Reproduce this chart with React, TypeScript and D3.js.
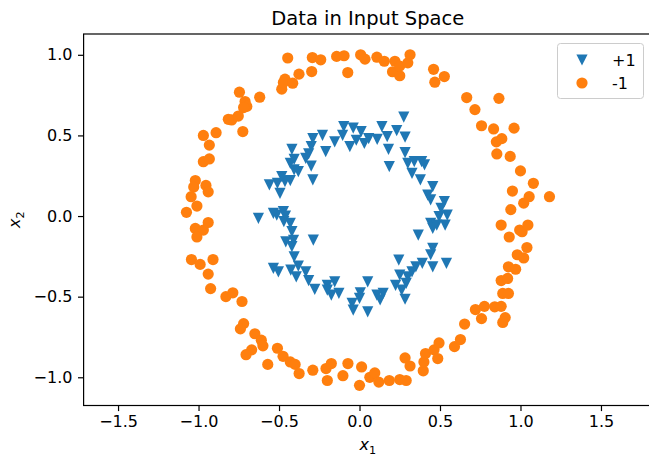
import React, { useRef, useEffect } from 'react';
import * as d3 from 'd3';

// points: [x1, x2]
const positivePoints: [number, number][] = [
  [0.275, 0.613], [-0.098, 0.555], [-0.039, 0.545], [0.01, 0.524], [0.139, 0.555], [0.231, 0.53],
  [0.283, 0.489], [0.172, 0.493], [0.11, 0.475], [0.057, 0.48], [0.03, 0.45], [-0.02, 0.47],
  [-0.06, 0.43], [-0.105, 0.5], [-0.154, 0.46], [-0.23, 0.5], [-0.29, 0.48], [-0.3, 0.43],
  [-0.21, 0.4], [-0.316, 0.385], [-0.334, 0.358], [-0.42, 0.414], [-0.406, 0.352], [-0.43, 0.327],
  [-0.3, 0.31], [-0.406, 0.286], [-0.38, 0.275], [-0.29, 0.224], [-0.463, 0.213], [-0.483, 0.244],
  [-0.56, 0.193], [-0.51, 0.203], [-0.494, 0.141], [-0.43, 0.22], [0.18, 0.414], [0.185, 0.306],
  [0.283, 0.393], [0.3, 0.327], [0.34, 0.337], [0.326, 0.265], [0.386, 0.337], [0.404, 0.317],
  [0.378, 0.224], [0.455, 0.182], [0.424, 0.13], [0.442, 0.1], [0.527, 0.09], [0.506, 0.048],
  [0.545, 0.006], [0.494, -0.004], [0.442, -0.046], [0.48, -0.056], [0.532, -0.056], [0.455, -0.077],
  [0.365, -0.118], [0.455, -0.2], [0.442, -0.24], [0.54, -0.294], [0.244, -0.273], [0.39, -0.294],
  [0.35, -0.315], [0.455, -0.315], [0.326, -0.346], [0.3, -0.377], [0.25, -0.366], [0.29, -0.418],
  [0.224, -0.43], [0.262, -0.46], [0.283, -0.516], [0.147, -0.48], [0.108, -0.49], [0.128, -0.52],
  [0.051, -0.408], [0.005, -0.476], [0.0, -0.511], [-0.046, -0.542], [-0.039, -0.584], [0.051, -0.594],
  [-0.154, -0.408], [-0.2, -0.43], [-0.128, -0.48], [-0.175, -0.49], [-0.2, -0.46], [-0.278, -0.455],
  [-0.316, -0.4], [-0.334, -0.346], [-0.393, -0.377], [-0.427, -0.335], [-0.535, -0.325], [-0.504, -0.346],
  [-0.406, -0.253], [-0.38, -0.31], [-0.42, -0.19], [-0.458, -0.16], [-0.41, -0.15], [-0.287, -0.149],
  [-0.43, -0.046], [-0.42, -0.097], [-0.47, -0.035], [-0.514, 0.006], [-0.473, 0.027], [-0.535, 0.017],
  [-0.628, -0.014], [-0.46, 0.0],
];

const negativePoints: [number, number][] = [
  [-0.446, 0.98], [-0.293, 0.983], [-0.241, 0.969], [-0.142, 0.99], [-0.096, 0.994], [-0.073, 0.89],
  [0.007, 1.0], [0.034, 0.973], [0.108, 0.985], [0.154, 0.96], [0.22, 0.96], [0.205, 0.895],
  [0.25, 0.87], [0.25, 0.93], [0.3, 0.95], [0.314, 1.0], [0.46, 0.91], [0.527, 0.865],
  [0.468, 0.83], [-0.376, 0.88], [-0.297, 0.896], [-0.463, 0.849], [-0.483, 0.787], [-0.473, 0.828],
  [-0.415, 0.824], [-0.746, 0.768], [-0.711, 0.71], [-0.7, 0.68], [-0.72, 0.673], [-0.62, 0.737],
  [-0.753, 0.62], [-0.794, 0.596], [-0.815, 0.6], [-0.725, 0.524], [-0.891, 0.517], [-0.97, 0.5],
  [-0.933, 0.44], [-0.97, 0.337], [-0.933, 0.354], [-1.02, 0.22], [-1.03, 0.18], [-0.954, 0.19],
  [-0.94, 0.15], [-1.046, 0.12], [-1.01, 0.062], [-1.075, 0.023], [-1.02, -0.077], [-0.97, -0.087],
  [-0.94, -0.04], [-1.01, -0.13], [-1.044, -0.27], [-0.99, -0.3], [-0.91, -0.27], [-0.94, -0.36],
  [-0.925, -0.45], [-0.83, -0.5], [-0.787, -0.476], [-0.73, -0.53], [-0.72, -0.667], [-0.74, -0.7],
  [-0.65, -0.73], [-0.61, -0.77], [-0.6, -0.805], [-0.67, -0.83], [-0.705, -0.86], [-0.57, -0.92],
  [-0.51, -0.82], [-0.475, -0.87], [-0.43, -0.905], [-0.4, -0.92], [-0.375, -0.977], [-0.29, -0.956],
  [-0.208, -0.946], [-0.175, -0.915], [-0.2, -1.02], [-0.103, -0.99], [-0.072, -0.915], [0.013, -0.936],
  [0.0, -1.05], [0.064, -1.0], [0.095, -0.973], [0.12, -1.03], [0.185, -1.02], [0.25, -1.014],
  [0.29, -1.02], [0.283, -0.88], [0.314, -0.93], [0.396, -0.96], [0.4, -0.905], [0.41, -0.853],
  [0.463, -0.83], [0.494, -0.787], [0.486, -0.884], [0.59, -0.81], [0.627, -0.766], [0.653, -0.67],
  [0.72, -0.58], [0.758, -0.636], [0.776, -0.56], [0.84, -0.563], [0.88, -0.56], [0.905, -0.63],
  [0.89, -0.66], [0.89, -0.48], [0.925, -0.48], [0.88, -0.4], [0.92, -0.387], [0.925, -0.315],
  [0.97, -0.33], [0.98, -0.24], [1.02, -0.26], [1.04, -0.195], [0.93, -0.13], [0.995, -0.087],
  [1.01, -0.097], [1.046, -0.056], [0.88, -0.056], [0.94, 0.04], [1.02, 0.08], [1.054, 0.12],
  [1.18, 0.12], [1.08, 0.203], [0.95, 0.155], [1.0, 0.28], [0.936, 0.37], [0.853, 0.385],
  [0.85, 0.46], [0.884, 0.48], [0.833, 0.54], [0.758, 0.56], [0.96, 0.545], [0.717, 0.66],
  [0.666, 0.735], [0.866, 0.73],
];

const xTicks = [-1.5, -1.0, -0.5, 0.0, 0.5, 1.0, 1.5];
const yTicks = [-1.0, -0.5, 0.0, 0.5, 1.0];
const xDomain = [-1.714, 1.817];
const yDomain = [-1.175, 1.129];
const legendLabels = ['+1', '-1'];

const BLUE = '#1f77b4';
const ORANGE = '#ff7f0e';
const FONT = '"DejaVu Sans", sans-serif';
const FS = '16px';

const W = 649, H = 456;
const margin = { left: 83.6, top: 34, right: 652, bottom: 405.5 };
const R = 5.6; // marker half-size

const triDown = (r: number) => `M${-r},${-r}L${r},${-r}L0,${r}Z`;
const fmt = (v: number) => d3.format('.1f')(v).replace('-', '\u2212');

const App = () => {
  const ref = useRef<SVGSVGElement>(null);

  useEffect(() => {
    const svg = d3.select(ref.current);
    svg.selectAll('*').remove();

    const x = d3.scaleLinear().domain(xDomain).range([margin.left, margin.right]);
    const y = d3.scaleLinear().domain(yDomain).range([margin.bottom, margin.top]);

    // points
    const g = svg.append('g');
    g.selectAll('path.pos')
      .data(positivePoints)
      .enter().append('path')
      .attr('class', 'pos')
      .attr('d', triDown(R))
      .attr('transform', d => `translate(${x(d[0])},${y(d[1])})`)
      .style('fill', BLUE);

    g.selectAll('circle.neg')
      .data(negativePoints)
      .enter().append('circle')
      .attr('class', 'neg')
      .attr('cx', d => x(d[0]))
      .attr('cy', d => y(d[1]))
      .attr('r', R)
      .style('fill', ORANGE);

    // axes
    const xaxis = d3.axisBottom(x).tickValues(xTicks).tickFormat(fmt as any).tickSize(5.6).tickPadding(5);
    const yaxis = d3.axisLeft(y).tickValues(yTicks).tickFormat(fmt as any).tickSize(5.6).tickPadding(5.6);

    const gx = svg.append('g').attr('transform', `translate(0,${margin.bottom})`).call(xaxis);
    const gy = svg.append('g').attr('transform', `translate(${margin.left},0)`).call(yaxis);
    [gx, gy].forEach(a => {
      a.select('.domain').remove();
      a.selectAll('line').attr('stroke', '#000').attr('stroke-width', 1.2);
      a.selectAll('text').attr('fill', '#000').style('font-family', FONT).style('font-size', FS);
    });

    // frame
    svg.append('rect')
      .attr('x', margin.left)
      .attr('y', margin.top)
      .attr('width', margin.right - margin.left)
      .attr('height', margin.bottom - margin.top)
      .style('fill', 'none')
      .style('stroke', '#000')
      .style('stroke-width', 1.2);

    // title and labels
    svg.append('text')
      .attr('x', (margin.left + margin.right) / 2)
      .attr('y', 25)
      .attr('text-anchor', 'middle')
      .style('font-family', FONT)
      .style('font-size', '19.5px')
      .text('Data in Input Space');

    const xl = svg.append('text')
      .attr('x', (margin.left + margin.right) / 2)
      .attr('y', 450)
      .attr('text-anchor', 'middle')
      .style('font-family', FONT)
      .style('font-size', FS);
    xl.append('tspan').style('font-style', 'italic').text('x');
    xl.append('tspan').attr('dy', 3.5).style('font-size', '11.2px').text('1');

    const yl = svg.append('text')
      .attr('transform', `translate(20,${(margin.top + margin.bottom) / 2}) rotate(-90)`)
      .attr('text-anchor', 'middle')
      .style('font-family', FONT)
      .style('font-size', FS);
    yl.append('tspan').style('font-style', 'italic').text('x');
    yl.append('tspan').attr('dy', 3.5).style('font-size', '11.2px').text('2');

    // legend
    const lg = svg.append('g');
    lg.append('rect')
      .attr('x', 557.5).attr('y', 43.5)
      .attr('width', 86).attr('height', 55)
      .attr('rx', 3)
      .style('fill', '#fff').style('fill-opacity', 0.8)
      .style('stroke', '#ccc').style('stroke-width', 1);
    legendLabels.forEach((lab, i) => {
      const cy = 60 + i * 23;
      if (i === 0) {
        lg.append('path').attr('d', triDown(R)).attr('transform', `translate(582,${cy})`).style('fill', BLUE);
      } else {
        lg.append('circle').attr('cx', 582).attr('cy', cy).attr('r', R).style('fill', ORANGE);
      }
      lg.append('text')
        .attr('x', 612).attr('y', cy + 6)
        .style('font-family', FONT).style('font-size', FS)
        .text(lab);
    });
  }, []);

  return (
    <svg ref={ref} width={W} height={H} style={{ position: 'absolute', left: 0, top: 0, background: '#fff' }} />
  );
};

export default App;
